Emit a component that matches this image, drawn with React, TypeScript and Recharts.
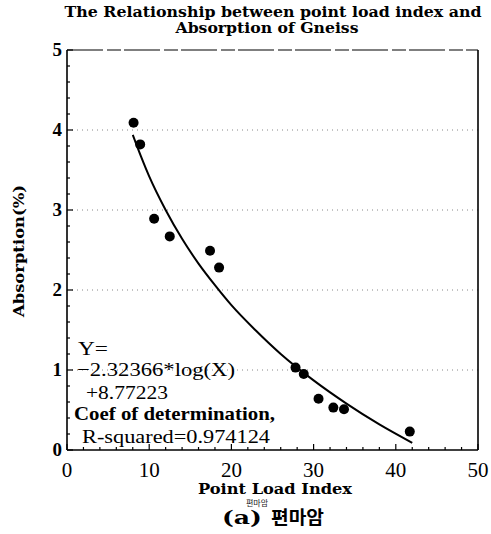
import React from 'react';
import {
  ComposedChart,
  XAxis,
  YAxis,
  Scatter,
  Line,
  CartesianGrid,
  ReferenceLine,
} from 'recharts';

// Measured points (Point Load Index vs Absorption %)
const pointLoadIndex = [8.1, 8.9, 10.6, 12.5, 17.4, 18.5, 27.8, 28.8, 30.6, 32.4, 33.7, 41.7];
const absorption = [4.09, 3.82, 2.89, 2.67, 2.49, 2.28, 1.03, 0.95, 0.64, 0.53, 0.51, 0.23];

// Fitted curve
const fitX = [8, 9, 10, 12, 14, 16, 18, 20, 23, 26, 30, 34, 38, 42];
const fitY = [3.94, 3.67, 3.42, 3.0, 2.64, 2.33, 2.06, 1.81, 1.49, 1.2, 0.87, 0.58, 0.32, 0.09];

const xTicks = [0, 2, 4, 6, 8, 10, 12, 14, 16, 18, 20, 22, 24, 26, 28, 30, 32, 34, 36, 38, 40, 42, 44, 46, 48, 50];
const xMajorLabels = [0, 10, 20, 30, 40, 50];
const yTicks = [0, 0.2, 0.4, 0.6, 0.8, 1, 1.2, 1.4, 1.6, 1.8, 2, 2.2, 2.4, 2.6, 2.8, 3, 3.2, 3.4, 3.6, 3.8, 4, 4.2, 4.4, 4.6, 4.8, 5];
const yMajorLabels = [0, 1, 2, 3, 4, 5];
const gridValues = [1, 2, 3, 4];

const titleLines = ['The Relationship between point load index and', 'Absorption of Gneiss'];
const xLabel = 'Point Load Index';
const yLabel = 'Absorption(%)';
const captionPrefix = '(a)';
const captionRock = '편마암';
const eqLines = ['Y=', '\u22122.32366*log(X)', '+8.77223', 'Coef of determination,', 'R-squared=0.974124'];

const scatterData = pointLoadIndex.map((x, i) => ({ x, y: absorption[i] }));
const fitData = fitX.map((x, i) => ({ x, y: fitY[i] }));

const NUM_FONT = '"Liberation Serif", "Times New Roman", serif';
const TITLE_FONT = '"DejaVu Serif", serif';
const KR_FONT = '"Noto Sans CJK KR", sans-serif';

const isMajor = (v: number, list: number[]) => list.some((m) => Math.abs(m - v) < 1e-6);

const XTick = (props: any) => {
  const { x, y, payload } = props;
  const v = payload.value;
  const major = isMajor(v, xMajorLabels);
  return (
    <g>
      <line x1={x} x2={x} y1={y} y2={y - (major ? 6 : 3)} stroke="#000" strokeWidth={1.2} />
      {major && (
        <text x={x} y={y + 27} textAnchor="middle" fontFamily={NUM_FONT} fontSize={21} fill="#000">
          {v}
        </text>
      )}
    </g>
  );
};

const YTick = (props: any) => {
  const { x, y, payload } = props;
  const v = payload.value;
  const major = isMajor(v, yMajorLabels);
  return (
    <g>
      <line x1={x} x2={x + (major ? 6 : 3)} y1={y} y2={y} stroke="#000" strokeWidth={1.2} />
      {major && (
        <text x={x - 5} y={y + 6} textAnchor="end" fontFamily={NUM_FONT} fontSize={19} fontWeight="bold" fill="#000">
          {Math.round(v)}
        </text>
      )}
    </g>
  );
};

const Dot = (props: any) => <circle cx={props.cx} cy={props.cy} r={5} fill="#000" />;

export default function App() {
  return (
    <div style={{ position: 'absolute', left: 0, top: 0, width: 491, height: 534, background: '#fff' }}>
      <ComposedChart
        width={491}
        height={534}
        margin={{ top: 50, right: 13, bottom: 0, left: 7 }}
      >
        <CartesianGrid
          horizontal
          vertical={false}
          horizontalValues={gridValues}
          stroke="#888"
          strokeDasharray="1 4"
        />
        <XAxis
          type="number"
          dataKey="x"
          domain={[0, 50]}
          ticks={xTicks}
          interval={0}
          height={84}
          tickSize={0}
          tickMargin={0}
          tickLine={false}
          tick={<XTick />}
          axisLine={{ stroke: '#000', strokeWidth: 1.6 }}
          allowDataOverflow
        />
        <YAxis
          type="number"
          dataKey="y"
          domain={[0, 5]}
          ticks={yTicks}
          interval={0}
          width={60}
          tickSize={0}
          tickMargin={0}
          tickLine={false}
          tick={<YTick />}
          axisLine={{ stroke: '#000', strokeWidth: 1.6 }}
          allowDataOverflow
        />
        <ReferenceLine y={5} stroke="#000" strokeWidth={1.1} strokeDasharray="36 4 14 3" />
        <ReferenceLine x={50} stroke="#000" strokeWidth={1.6} />
        <Line
          data={fitData}
          dataKey="y"
          type="monotone"
          stroke="#000"
          strokeWidth={2}
          dot={false}
          activeDot={false}
          isAnimationActive={false}
        />
        <Scatter data={scatterData} dataKey="y" shape={<Dot />} isAnimationActive={false} />
      </ComposedChart>
      <svg
        width={491}
        height={534}
        style={{ position: 'absolute', left: 0, top: 0, pointerEvents: 'none' }}
      >
        <text x={273} y={17} textAnchor="middle" fontFamily={TITLE_FONT} fontWeight="bold" fontSize={14} textLength={417} lengthAdjust="spacingAndGlyphs" fill="#000">
          {titleLines[0]}
        </text>
        <text x={267} y={33} textAnchor="middle" fontFamily={TITLE_FONT} fontWeight="bold" fontSize={14} textLength={183} lengthAdjust="spacingAndGlyphs" fill="#000">
          {titleLines[1]}
        </text>
        <text
          transform="translate(24,251) rotate(-90)"
          textAnchor="middle"
          fontFamily={TITLE_FONT}
          fontWeight="bold"
          fontSize={15}
          textLength={132}
          lengthAdjust="spacingAndGlyphs"
          fill="#000"
        >
          {yLabel}
        </text>
        <text x={275} y={494} textAnchor="middle" fontFamily={TITLE_FONT} fontWeight="bold" fontSize={15} textLength={154} lengthAdjust="spacingAndGlyphs" fill="#000">
          {xLabel}
        </text>
        <text x={257} y={506} textAnchor="middle" fontFamily={KR_FONT} fontSize={8} fill="#222">
          {captionRock}
        </text>
        <text x={222} y={524} fontFamily={TITLE_FONT} fontWeight="bold" fontSize={18} textLength={40} lengthAdjust="spacingAndGlyphs" fill="#000">
          {captionPrefix}
        </text>
        <text x={271} y={524} fontFamily={KR_FONT} fontWeight="bold" fontSize={18} textLength={53} lengthAdjust="spacingAndGlyphs" fill="#000">
          {captionRock}
        </text>
        <text x={78} y={355} fontFamily={NUM_FONT} fontSize={19} textLength={30} lengthAdjust="spacingAndGlyphs" fill="#000">{eqLines[0]}</text>
        <text x={77} y={376} fontFamily={NUM_FONT} fontSize={19} textLength={158} lengthAdjust="spacingAndGlyphs" fill="#000">{eqLines[1]}</text>
        <text x={86} y={399} fontFamily={NUM_FONT} fontSize={19} textLength={82} lengthAdjust="spacingAndGlyphs" fill="#000">{eqLines[2]}</text>
        <text x={74} y={420} fontFamily={NUM_FONT} fontSize={19} fontWeight="bold" textLength={201} lengthAdjust="spacingAndGlyphs" fill="#000">{eqLines[3]}</text>
        <text x={82} y={443} fontFamily={NUM_FONT} fontSize={19} textLength={188} lengthAdjust="spacingAndGlyphs" fill="#000">{eqLines[4]}</text>
      </svg>
    </div>
  );
}
